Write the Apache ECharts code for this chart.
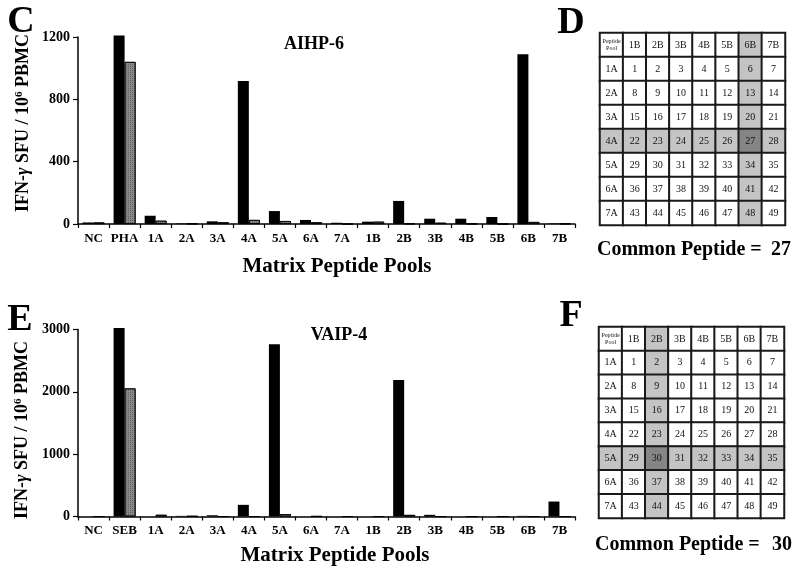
<!DOCTYPE html>
<html>
<head>
<meta charset="utf-8">
<script src="https://cdn.jsdelivr.net/npm/echarts@6/dist/echarts.min.js"></script>
<style>html,body{margin:0;padding:0;background:#fff;}#chart{width:800px;height:578px;}</style>
</head>
<body>
<div id="chart"></div>
<script>
// ---- Data ----
const categoriesC = ['NC','PHA','1A','2A','3A','4A','5A','6A','7A','1B','2B','3B','4B','5B','6B','7B'];
const blackC = [10,1210,53,3,17,918,83,26,8,15,148,34,34,45,1089,3];
const greyC  = [10,1040,21,3,11,26,19,11,0,15,3,8,2,0,13,3];
const ticksC = [0,400,800,1200];

const categoriesE = ['NC','SEB','1A','2A','3A','4A','5A','6A','7A','1B','2B','3B','4B','5B','6B','7B'];
const blackE = [0,3025,0,10,20,187,2765,0,0,0,2188,27,0,0,10,240];
const greyE  = [0,2055,27,6,0,0,38,3,0,0,25,0,0,0,0,0];
const ticksE = [0,1000,2000,3000];

const colLabels = ['1B','2B','3B','4B','5B','6B','7B'];
const rowLabels = ['1A','2A','3A','4A','5A','6A','7A'];
const cellNumbers = [
  [1,2,3,4,5,6,7],
  [8,9,10,11,12,13,14],
  [15,16,17,18,19,20,21],
  [22,23,24,25,26,27,28],
  [29,30,31,32,33,34,35],
  [36,37,38,39,40,41,42],
  [43,44,45,46,47,48,49]
];
const hitD = {col:'6B', row:'4A', common:27};
const hitF = {col:'2B', row:'5A', common:30};

// ---- Build ----
const FONT = 'Liberation Serif';
function tableData(hit){
  const out = [];
  const shade = (r,c) => {
    const inRow = r === hit.row, inCol = c === hit.col;
    if (inRow && inCol) return '#858585';
    if (inRow || inCol) return '#c4c4c4';
    return '#ffffff';
  };
  out.push({value:[0,0,0], itemStyle:{color:'#ffffff'}, label:{formatter:'Peptide\nPool', fontSize:6, lineHeight:7}});
  colLabels.forEach((c,j)=> out.push({value:[j+1,0,0], itemStyle:{color:shade(null,c)}, label:{formatter:c}}));
  rowLabels.forEach((r,i)=>{
    out.push({value:[0,i+1,0], itemStyle:{color:shade(r,null)}, label:{formatter:r}});
    colLabels.forEach((c,j)=> out.push({value:[j+1,i+1,0], itemStyle:{color:shade(r,c)}, label:{formatter:String(cellNumbers[i][j])}}));
  });
  return out;
}
const idx8 = [0,1,2,3,4,5,6,7];

function barAxes(cats, ticks, gi){
  return {
    x: {type:'category', gridIndex:gi, data:cats,
        axisLine:{lineStyle:{color:'#000', width:1.5}},
        axisTick:{show:true, length:4, lineStyle:{color:'#000', width:1.2}},
        axisLabel:{color:'#000', fontFamily:FONT, fontWeight:'bold', fontSize:13, margin:8, interval:0}},
    y: {type:'value', gridIndex:gi, min:ticks[0], max:ticks[ticks.length-1], interval:ticks[1]-ticks[0],
        axisLine:{show:true, lineStyle:{color:'#000', width:1.5}},
        axisTick:{show:true, length:5, lineStyle:{color:'#000', width:1.2}},
        splitLine:{show:false},
        axisLabel:{color:'#000', fontFamily:FONT, fontWeight:'bold', fontSize:14, margin:8,
                   formatter:(v)=>String(v)}}
  };
}
const aC = barAxes(categoriesC, ticksC, 0);
const aE = barAxes(categoriesE, ticksE, 1);

const greyStyle = {color:'#8a8a8a', borderColor:'#000', borderWidth:0.8,
  decal:{symbol:'rect', symbolSize:1, dashArrayX:[1,1], dashArrayY:[1,1], color:'rgba(40,40,40,0.45)'}};

function barSeries(data, gi, style){
  return {type:'bar', xAxisIndex:gi, yAxisIndex:gi, data:data, barWidth:11, barGap:'0%', clip:false,
          itemStyle:style, silent:true};
}
function heat(hit, gi){
  return {type:'heatmap', xAxisIndex:gi, yAxisIndex:gi, data:tableData(hit),
    itemStyle:{borderColor:'#1a1a1a', borderWidth:2},
    label:{show:true, color:'#111', fontFamily:FONT, fontSize:10},
    emphasis:{disabled:true}, silent:true};
}
function hiddenCat(gi, inverse){
  return {type:'category', gridIndex:gi, data:idx8, show:false, inverse:!!inverse};
}

function txt(x,y,text,size,align){
  return {type:'text', x:x, y:y, silent:true,
    style:{text:text, fill:'#000', font:'bold '+size+'px "'+FONT+'"', textAlign:align||'center', textVerticalAlign:'middle'}};
}
function yName(x,y){
  return {type:'text', x:x, y:y, rotation:Math.PI/2, silent:true,
    style:{text:'{a|IFN-}{g|γ}{a| SFU / 10}{s|6}{a| PBMC}', textAlign:'center', textVerticalAlign:'middle',
      rich:{
        a:{fontFamily:FONT, fontWeight:'bold', fontSize:18, color:'#000'},
        g:{fontFamily:FONT, fontStyle:'italic', fontWeight:'bold', fontSize:18, color:'#000'},
        s:{fontFamily:FONT, fontWeight:'bold', fontSize:11, color:'#000', padding:[0,0,8,0]}
      }}};
}

const chart = echarts.init(document.getElementById('chart'), null, {renderer:'canvas'});
chart.setOption({
  backgroundColor:'#fff',
  animation:false,
  grid:[
    {left:78, top:37, width:497, height:187},
    {left:78, top:329.5, width:497, height:187},
    {left:600, top:33, width:185, height:192},
    {left:599, top:327, width:185, height:191}
  ],
  xAxis:[aC.x, aE.x, hiddenCat(2), hiddenCat(3)],
  yAxis:[aC.y, aE.y, hiddenCat(2,true), hiddenCat(3,true)],
  series:[
    barSeries(blackC, 0, {color:'#000'}),
    barSeries(greyC, 0, greyStyle),
    barSeries(blackE, 1, {color:'#000'}),
    barSeries(greyE, 1, greyStyle),
    heat(hitD, 2),
    heat(hitF, 3)
  ],
  graphic:[
    txt(21,22,'C',38), txt(571,23,'D',38), txt(20,320,'E',38), txt(571,316,'F',38),
    txt(314,44,'AIHP-6',18), txt(339,335,'VAIP-4',18),
    txt(337,267,'Matrix Peptide Pools',21), txt(335,556,'Matrix Peptide Pools',21),
    yName(23,123), yName(22,430),
    txt(597,250,'Common Peptide =',20,'left'),
    txt(791,250,String(hitD.common),20,'right'),
    txt(595,545,'Common Peptide =',20,'left'),
    txt(792,545,String(hitF.common),20,'right')
  ]
});
</script>
</body>
</html>
